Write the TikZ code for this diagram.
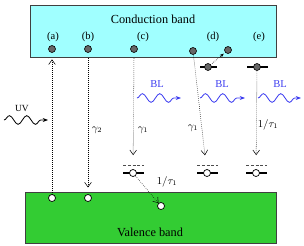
\documentclass[tikz,border=0pt]{standalone}
\usepackage{fontspec}
\setmainfont{Liberation Serif}
\usepackage{xcolor}
\usetikzlibrary{arrows.meta, decorations.pathmorphing}

\definecolor{cbcyan}{RGB}{160,255,255}
\definecolor{vbgreen}{RGB}{51,204,51}
\definecolor{blblue}{RGB}{60,60,240}

\begin{document}
\begin{tikzpicture}[
    x=0.03cm, y=-0.03cm,
    font=\fontsize{9}{10}\selectfont,
    band/.style={draw=black!75, line width=0.9pt, inner sep=0},
    elek/.style={circle, draw=black, fill=black!60, inner sep=0, minimum size=0.21cm, line width=0.5pt},
    lubang/.style={circle, draw=black, fill=white, inner sep=0, minimum size=0.21cm, line width=0.6pt},
    jebak/.style={line width=1.6pt},
    aras/.style={dashed, dash pattern=on 2.5pt off 1.6pt, line width=0.6pt, black!70},
    titik/.style={line width=0.45pt, dash pattern=on 0.5pt off 1.2pt, -{Straight Barb[length=1.4mm, width=2mm]}},
    gelombang/.style={decorate, decoration={snake, amplitude=0.13cm, segment length=0.52cm, post length=1.5mm}, line width=0.7pt, -{Stealth[length=1.6mm]}},
    cahaya/.style={gelombang, blblue}
  ]
    \useasboundingbox (0,0) rectangle (304,245);

    \node[band, fill=cbcyan, minimum width=7.38cm, minimum height=1.56cm, anchor=north west] (cb) at (30,5) {};
    \node[band, fill=vbgreen, minimum width=7.53cm, minimum height=1.53cm, anchor=north west] (vb) at (25,192) {};
    \node[font=\fontsize{10.5}{12}\selectfont] (cbt) at (153,19) {Conduction band};
    \node[font=\fontsize{10.5}{12}\selectfont] (vbt) at (150,232) {Valence band};

    \foreach \nm/\xx in {a/53, b/88, c/143, d/213, e/259}
      \node (lab\nm) at (\xx,37) {(\nm)};

    % elektron di pita konduksi
    \node[elek] (ea) at (52,49) {};
    \node[elek] (eb) at (88,49) {};
    \node[elek] (ec) at (134,49) {};
    \node[elek] (ed) at (193,51) {};
    \node[elek] (ed2) at (228,50) {};

    % perangkap terisi
    \draw[jebak] (200,67) -- (217,67);
    \draw[jebak] (247,67) -- (268,67);
    \node[elek] (td) at (208,67) {};
    \node[elek] (te) at (257,67) {};

    % perangkap kosong
    \foreach \nm/\xx in {c/133, d/207, e/256} {
      \draw[aras] (\xx-10,165) -- (\xx+11,165);
      \draw[jebak] (\xx-10,173) -- (\xx+11,173);
      \node[lubang] (l\nm) at (\xx,173) {};
    }

    % lubang di pita valensi
    \node[lubang] (ha) at (52,198) {};
    \node[lubang] (hb) at (88,198) {};
    \node[lubang] (hc) at (161,206) {};

    \draw[titik] (ha) -- ([yshift=-0.04cm]ha |- cb.south);
    \draw[titik, shorten >=0.2cm] (eb |- cb.south) -- (hb);
    \draw[titik, shorten >=0.42cm] (ec |- cb.south) -- (lc);
    \draw[titik, shorten >=0.42cm] (ed) -- (ld);
    \draw[titik, shorten >=0.42cm] (te) -- (le);
    \draw[titik] (lc) -- (hc);
    \draw[line width=0.5pt, dash pattern=on 0.5pt off 1pt, -{Stealth[length=1.3mm]}, shorten <=0.05cm, shorten >=0.05cm] (td) -- (ed2);

    \node (g2) at (97,130) {$\gamma_2$};
    \node (g1c) at (143,130) {$\gamma_1$};
    \node (g1d) at (193,128) {$\gamma_1$};
    \node (taue) at (268,125) {$1/\tau_1$};
    \node (tauc) at (167,182) {$1/\tau_1$};

    % cahaya
    \node[font=\fontsize{8}{9}\selectfont] (uv) at (22,108) {UV};
    \draw[gelombang] (4,120) -- (48,120);
    \foreach \xa/\xb/\xl in {137/181/157, 200/245/222, 258/301/280} {
      \node[blblue] at (\xl,84) {BL};
      \draw[cahaya] (\xa,98) -- (\xb,98);
    }
\end{tikzpicture}
\end{document}
